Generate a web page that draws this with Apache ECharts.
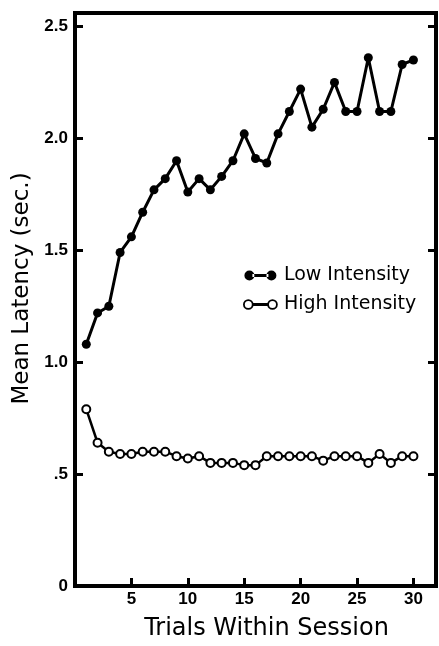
<!DOCTYPE html>
<html>
<head>
<meta charset="utf-8">
<script src="https://cdn.jsdelivr.net/npm/echarts@6/dist/echarts.min.js"></script>
<style>
  html, body { margin: 0; padding: 0; background: #fff; }
  #chart { width: 439px; height: 646px; }
</style>
</head>
<body>
<div id="chart"></div>
<script>
// trials 1..30
var trials = [1, 2, 3, 4, 5, 6, 7, 8, 9, 10, 11, 12, 13, 14, 15,
  16, 17, 18, 19, 20, 21, 22, 23, 24, 25, 26, 27, 28, 29, 30]
// mean latency (sec.)
var lowIntensity = [1.08, 1.22, 1.25, 1.49, 1.56, 1.67, 1.77, 1.82, 1.90, 1.76,
  1.82, 1.77, 1.83, 1.90, 2.02, 1.91, 1.89, 2.02, 2.12, 2.22,
  2.05, 2.13, 2.25, 2.12, 2.12, 2.36, 2.12, 2.12, 2.33, 2.35]
var highIntensity = [0.79, 0.64, 0.60, 0.59, 0.59, 0.60, 0.60, 0.60, 0.58, 0.57,
  0.58, 0.55, 0.55, 0.55, 0.54, 0.54, 0.58, 0.58, 0.58, 0.58,
  0.58, 0.56, 0.58, 0.58, 0.58, 0.55, 0.59, 0.55, 0.58, 0.58]
// tick labels
var yTickLabels = { '0': '0', '0.5': '.5', '1': '1.0', '1.5': '1.5', '2': '2.0', '2.5': '2.5' }
var xTickLabels = ['5', '10', '15', '20', '25', '30']

var titleFont = 'DejaVu Sans'
var tickFont = 'Liberation Sans'

function pairs(ys) {
  return trials.map(function (t, i) { return [t, ys[i]] })
}

var chart = echarts.init(document.getElementById('chart'))

var option = {
  backgroundColor: '#fff',
  animation: false,
  grid: {
    left: 75, right: 3, top: 13, bottom: 52,
    show: true, borderColor: '#000', borderWidth: 4
  },
  legend: {
    orient: 'vertical',
    left: 238, top: 261,
    itemGap: 10,
    itemWidth: 33, itemHeight: 10,
    textStyle: { fontFamily: titleFont, fontSize: 19, color: '#000', padding: [0, 0, 0, 2] },
    data: [
      {
        name: 'Low Intensity',
        icon: 'path://M0,5a5,5 0 1,0 10,0a5,5 0 1,0 -10,0zM8,3.6h16v2.8h-16zM22,5a5,5 0 1,0 10,0a5,5 0 1,0 -10,0z',
        itemStyle: { color: '#000' }
      },
      {
        name: 'High Intensity',
        icon: 'path://M1,5a4,4 0 1,0 8,0a4,4 0 1,0 -8,0zM9,4.4h14v1.2h-14zM23,5a4,4 0 1,0 8,0a4,4 0 1,0 -8,0z',
        itemStyle: { color: '#fff', borderColor: '#000', borderWidth: 1.8 }
      }
    ]
  },
  xAxis: {
    type: 'value',
    min: 0, max: 32, interval: 5,
    name: 'Trials Within Session',
    nameLocation: 'middle',
    nameGap: 31,
    nameTextStyle: { fontFamily: titleFont, fontSize: 24, color: '#000', padding: [0, 0, 0, 22] },
    axisLine: { show: true, onZero: false, lineStyle: { color: '#000', width: 4 } },
    axisTick: { show: true, inside: true, length: 8, lineStyle: { color: '#000', width: 3 } },
    axisLabel: {
      fontFamily: tickFont, fontSize: 17, fontWeight: 'bold', color: '#000', margin: 5,
      formatter: function (v) { return xTickLabels.indexOf(String(v)) >= 0 ? String(v) : '' }
    },
    splitLine: { show: false }
  },
  yAxis: [
    {
      type: 'value',
      min: 0, max: 2.56, interval: 0.5,
      name: 'Mean Latency (sec.)',
      nameLocation: 'middle',
      nameGap: 37,
      nameTextStyle: { fontFamily: titleFont, fontSize: 23, color: '#000', padding: [0, 0, 0, 22] },
      axisLine: { show: true, lineStyle: { color: '#000', width: 4 } },
      axisTick: { show: true, inside: true, length: 8, lineStyle: { color: '#000', width: 3 } },
      axisLabel: {
        fontFamily: tickFont, fontSize: 17, fontWeight: 'bold', color: '#000', margin: 7,
        showMaxLabel: false,
        formatter: function (v) { return yTickLabels[String(v)] || '' }
      },
      splitLine: { show: false }
    },
    {
      type: 'value',
      position: 'right',
      min: 0, max: 2.56, interval: 0.5,
      axisLine: { show: true, lineStyle: { color: '#000', width: 4 } },
      axisTick: { show: true, inside: true, length: 8, lineStyle: { color: '#000', width: 3 } },
      axisLabel: { show: false },
      splitLine: { show: false }
    }
  ],
  series: [
    {
      name: 'Low Intensity',
      type: 'line',
      data: pairs(lowIntensity),
      symbol: 'circle',
      symbolSize: 9,
      lineStyle: { color: '#000', width: 3 },
      itemStyle: { color: '#000' }
    },
    {
      name: 'High Intensity',
      type: 'line',
      data: pairs(highIntensity),
      symbol: 'circle',
      symbolSize: 8,
      lineStyle: { color: '#000', width: 2.5 },
      itemStyle: { color: '#fff', borderColor: '#000', borderWidth: 2 }
    }
  ]
}

chart.setOption(option)
</script>
</body>
</html>
